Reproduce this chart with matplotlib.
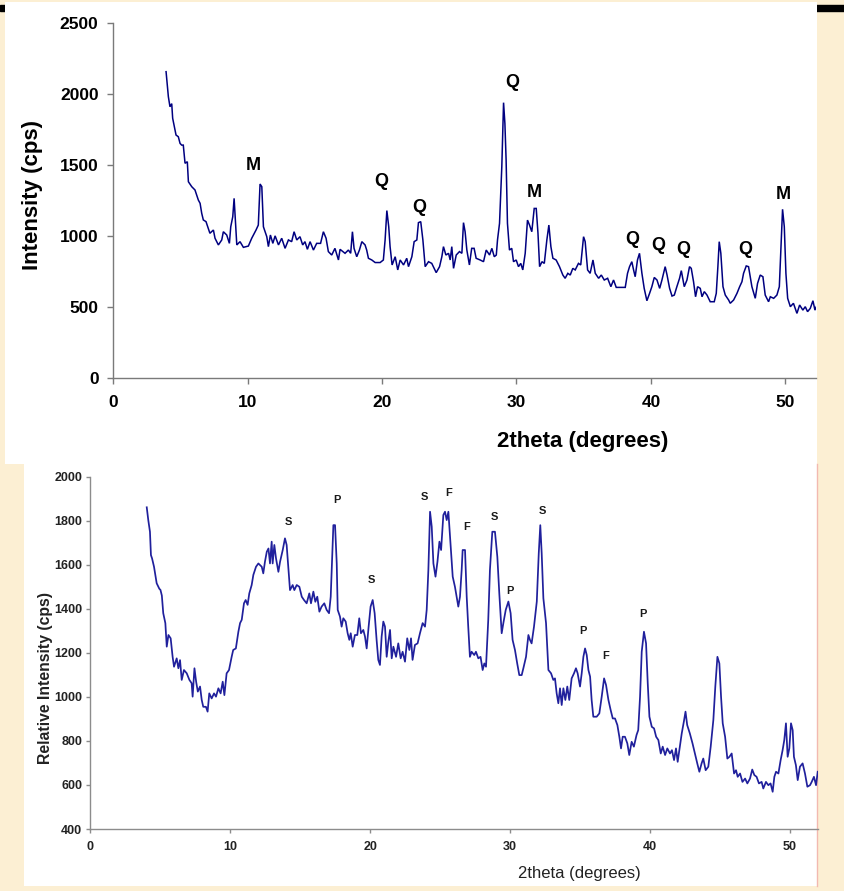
"""
Two stacked XRD patterns on a slide background.
Top    - Intensity (cps) with M / Q peak marks
Bottom - Relative Intensity (cps) with S / P / F peak marks
"""

import matplotlib
matplotlib.use("Agg")
import matplotlib.pyplot as plt
import matplotlib.patches as mpatches
import matplotlib.lines as mlines


W, H = 845, 891
SLIDE_BG   = "#fcefd3"
PANEL_BG   = "#ffffff"
TOP_LINE   = "#000080"
BOT_LINE   = "#20209c"
SPINE_GRAY = "#7a7a7a"

# ── top pattern ─────────────────────────────────────────────────────────────
top_tth = [
    3.94, 4.11, 4.23, 4.36, 4.43, 4.61, 4.68, 4.85, 4.98, 5.10, 5.22, 5.35,
    5.52, 5.60, 5.85, 6.09, 6.34, 6.47, 6.59, 6.71, 6.91, 7.08, 7.20, 7.46,
    7.58, 7.83, 8.08, 8.20, 8.45, 8.65, 8.75, 8.90, 9.00, 9.10, 9.20, 9.44,
    9.69, 10.06, 10.31, 10.63, 10.80, 10.93, 11.06, 11.18, 11.43, 11.55, 11.70, 11.88,
    12.05, 12.30, 12.54, 12.79, 13.04, 13.28, 13.46, 13.66, 13.90, 14.10, 14.27, 14.45,
    14.65, 14.90, 15.14, 15.43, 15.64, 15.84, 16.01, 16.26, 16.50, 16.76, 16.88, 17.25,
    17.50, 17.67, 17.80, 17.92, 18.12, 18.32, 18.50, 18.74, 18.86, 18.99, 19.24, 19.49,
    19.86, 20.10, 20.23, 20.36, 20.50, 20.60, 20.75, 20.98, 21.17, 21.35, 21.60, 21.84,
    21.97, 22.22, 22.39, 22.59, 22.71, 22.88, 23.04, 23.21, 23.46, 23.70, 24.03, 24.28,
    24.45, 24.57, 24.75, 24.95, 25.07, 25.19, 25.32, 25.52, 25.76, 25.94, 26.06, 26.18,
    26.31, 26.50, 26.67, 26.85, 27.00, 27.30, 27.55, 27.75, 28.00, 28.17, 28.35, 28.50,
    28.59, 28.74, 28.91, 29.04, 29.14, 29.23, 29.33, 29.48, 29.65, 29.78, 29.98, 30.15,
    30.32, 30.47, 30.65, 30.82, 30.97, 31.14, 31.32, 31.47, 31.60, 31.72, 31.90, 32.07,
    32.26, 32.41, 32.56, 32.71, 32.95, 33.20, 33.45, 33.62, 33.82, 34.00, 34.19, 34.37,
    34.61, 34.78, 34.99, 35.11, 35.29, 35.48, 35.69, 35.86, 36.11, 36.31, 36.53, 36.78,
    37.02, 37.22, 37.42, 37.84, 38.09, 38.26, 38.41, 38.58, 38.71, 38.83, 39.00, 39.15,
    39.33, 39.50, 39.70, 39.90, 40.07, 40.25, 40.45, 40.65, 40.82, 41.06, 41.20, 41.39,
    41.57, 41.74, 41.93, 42.13, 42.26, 42.48, 42.68, 42.87, 43.00, 43.17, 43.32, 43.47,
    43.67, 43.80, 43.97, 44.17, 44.41, 44.71, 44.86, 44.98, 45.08, 45.20, 45.36, 45.53,
    45.78, 45.90, 46.15, 46.40, 46.60, 46.77, 46.89, 47.09, 47.26, 47.51, 47.76, 47.93,
    48.13, 48.33, 48.50, 48.75, 48.88, 49.13, 49.37, 49.55, 49.67, 49.79, 49.92, 50.04,
    50.17, 50.37, 50.60, 50.86, 51.06, 51.30, 51.48, 51.65, 51.85, 52.05, 52.20, 52.30,
]
top_cps = [
    2155, 1979, 1908, 1930, 1827, 1744, 1709, 1697, 1650, 1638, 1638, 1510,
    1521, 1380, 1345, 1322, 1251, 1228, 1158, 1111, 1099, 1052, 1017, 1040,
    982, 935, 970, 1028, 1005, 946, 1063, 1134, 1263, 1099, 935, 958,
    918, 927, 982, 1040, 1075, 1364, 1345, 1063, 993, 923, 1005, 946,
    999, 935, 982, 911, 970, 958, 1028, 970, 993, 935, 958, 904,
    958, 899, 946, 946, 1028, 982, 888, 864, 911, 829, 904, 876,
    899, 876, 1028, 911, 852, 899, 958, 935, 899, 841, 829, 811,
    811, 829, 970, 1177, 1063, 923, 794, 852, 759, 829, 794, 841,
    782, 852, 958, 970, 1092, 1099, 970, 782, 817, 805, 740, 782,
    852, 923, 864, 876, 829, 923, 770, 864, 888, 876, 1092, 1028,
    899, 794, 911, 911, 841, 829, 817, 899, 864, 911, 852, 864,
    970, 1087, 1486, 1937, 1790, 1533, 1087, 899, 911, 817, 829, 782,
    805, 759, 876, 1110, 1075, 1028, 1192, 1192, 1017, 782, 817, 805,
    970, 1075, 923, 841, 829, 782, 723, 700, 735, 723, 770, 759,
    805, 794, 993, 958, 759, 735, 829, 735, 700, 723, 688, 700,
    641, 688, 636, 636, 636, 735, 782, 817, 759, 711, 829, 876,
    735, 629, 542, 594, 641, 706, 688, 629, 688, 782, 723, 629,
    575, 582, 641, 700, 754, 641, 688, 782, 770, 676, 570, 641,
    629, 570, 606, 582, 535, 535, 594, 782, 958, 876, 641, 582,
    547, 524, 547, 594, 641, 676, 735, 787, 782, 641, 559, 664,
    723, 711, 582, 535, 570, 559, 582, 641, 923, 1186, 1063, 735,
    559, 500, 524, 453, 512, 476, 500, 465, 488, 542, 476, 500,
]
top_peak_labels = ["M", "Q", "Q", "Q", "M", "Q", "Q", "Q", "Q", "M"]
top_peak_tth    = [10.45, 19.97, 22.76, 29.68, 31.36, 38.58, 40.57, 42.37, 47.05, 49.88]
top_peak_cps    = [1495, 1382, 1200, 2081, 1305, 976, 932, 901, 902, 1290]

# ── bottom pattern ──────────────────────────────────────────────────────────
bot_tth = [
    4.02, 4.13, 4.25, 4.32, 4.40, 4.54, 4.73, 4.92, 5.00, 5.10, 5.20, 5.35,
    5.45, 5.57, 5.73, 5.87, 5.97, 6.16, 6.28, 6.40, 6.52, 6.68, 6.88, 7.07,
    7.23, 7.30, 7.43, 7.55, 7.67, 7.83, 7.95, 8.06, 8.25, 8.37, 8.49, 8.66,
    8.83, 8.97, 9.14, 9.30, 9.45, 9.57, 9.73, 9.90, 10.09, 10.20, 10.39, 10.57,
    10.69, 10.81, 10.97, 11.09, 11.23, 11.35, 11.52, 11.64, 11.83, 12.00, 12.24, 12.35,
    12.47, 12.60, 12.72, 12.83, 12.95, 13.02, 13.14, 13.26, 13.43, 13.55, 13.74, 13.90,
    14.02, 14.14, 14.26, 14.45, 14.57, 14.74, 14.93, 15.10, 15.26, 15.45, 15.64, 15.76,
    15.93, 16.07, 16.21, 16.36, 16.52, 16.71, 16.88, 17.05, 17.17, 17.26, 17.36, 17.48,
    17.60, 17.67, 17.83, 17.95, 18.07, 18.24, 18.38, 18.50, 18.60, 18.74, 18.90, 19.07,
    19.21, 19.33, 19.50, 19.62, 19.74, 19.88, 20.02, 20.17, 20.31, 20.45, 20.57, 20.69,
    20.81, 20.93, 21.05, 21.17, 21.29, 21.41, 21.53, 21.65, 21.84, 22.00, 22.17, 22.31,
    22.48, 22.64, 22.79, 22.91, 23.02, 23.19, 23.38, 23.55, 23.74, 23.91, 24.03, 24.15,
    24.27, 24.39, 24.51, 24.66, 24.80, 24.94, 25.06, 25.22, 25.34, 25.46, 25.58, 25.70,
    25.89, 26.05, 26.29, 26.41, 26.53, 26.60, 26.77, 26.89, 27.00, 27.12, 27.24, 27.43,
    27.55, 27.72, 27.88, 28.03, 28.15, 28.27, 28.43, 28.55, 28.72, 28.91, 29.08, 29.22,
    29.39, 29.51, 29.68, 29.87, 30.03, 30.17, 30.34, 30.50, 30.65, 30.82, 30.94, 31.13,
    31.30, 31.41, 31.53, 31.70, 31.90, 32.04, 32.15, 32.25, 32.37, 32.56, 32.73, 32.92,
    33.08, 33.20, 33.32, 33.44, 33.56, 33.68, 33.80, 33.94, 34.08, 34.22, 34.39, 34.56,
    34.70, 34.82, 34.99, 35.11, 35.23, 35.35, 35.47, 35.59, 35.71, 35.82, 35.94, 36.18,
    36.37, 36.54, 36.71, 36.85, 37.02, 37.18, 37.33, 37.49, 37.66, 37.80, 37.92, 38.04,
    38.20, 38.37, 38.51, 38.68, 38.84, 39.03, 39.15, 39.28, 39.40, 39.56, 39.71, 39.83,
    39.95, 40.12, 40.28, 40.43, 40.59, 40.76, 40.90, 41.07, 41.23, 41.42, 41.56, 41.71,
    41.85, 41.97, 42.09, 42.26, 42.41, 42.53, 42.65, 42.84, 43.03, 43.20, 43.37, 43.52,
    43.68, 43.80, 43.97, 44.16, 44.33, 44.52, 44.66, 44.81, 44.95, 45.07, 45.19, 45.36,
    45.52, 45.67, 45.83, 46.00, 46.14, 46.26, 46.43, 46.60, 46.79, 46.95, 47.14, 47.30,
    47.45, 47.61, 47.78, 47.97, 48.09, 48.28, 48.45, 48.61, 48.76, 48.88, 49.00, 49.17,
    49.33, 49.47, 49.59, 49.71, 49.83, 49.95, 50.07, 50.19, 50.28, 50.42, 50.55, 50.71,
    50.90, 51.07, 51.24, 51.43, 51.55, 51.71, 51.86, 51.98,
]
bot_cps = [
    1861, 1803, 1750, 1644, 1629, 1591, 1516, 1491, 1486, 1460, 1380, 1335,
    1228, 1281, 1266, 1182, 1137, 1175, 1130, 1167, 1077, 1122, 1107, 1077,
    1062, 1001, 1130, 1069, 1024, 1047, 986, 955, 955, 933, 1016, 993,
    1016, 1001, 1039, 1016, 1069, 1008, 1107, 1122, 1182, 1213, 1220, 1296,
    1335, 1350, 1425, 1440, 1418, 1470, 1508, 1554, 1591, 1606, 1591, 1561,
    1614, 1659, 1674, 1606, 1705, 1606, 1690, 1629, 1568, 1614, 1667, 1720,
    1690, 1584, 1485, 1508, 1485, 1508, 1500, 1455, 1440, 1425, 1470, 1425,
    1478, 1432, 1455, 1387, 1410, 1425, 1395, 1380, 1455, 1607, 1780, 1780,
    1606, 1395, 1365, 1319, 1357, 1342, 1289, 1259, 1289, 1228, 1281, 1281,
    1357, 1289, 1304, 1274, 1220, 1319, 1410, 1440, 1380, 1259, 1168, 1145,
    1274, 1342, 1319, 1182, 1251, 1304, 1175, 1228, 1182, 1243, 1175, 1205,
    1160, 1266, 1213, 1266, 1168, 1236, 1243, 1289, 1335, 1319, 1395, 1576,
    1841, 1773, 1606, 1546, 1614, 1705, 1667, 1826, 1841, 1803, 1841, 1728,
    1546, 1500, 1410, 1455, 1576, 1667, 1667, 1455, 1319, 1182, 1205, 1190,
    1205, 1175, 1182, 1122, 1152, 1137, 1349, 1576, 1750, 1750, 1636, 1470,
    1289, 1335, 1395, 1433, 1380, 1259, 1213, 1152, 1099, 1099, 1130, 1182,
    1281, 1259, 1243, 1319, 1433, 1652, 1780, 1652, 1448, 1335, 1122, 1107,
    1077, 1084, 1016, 971, 1039, 963, 1039, 986, 1047, 986, 1084, 1107,
    1130, 1107, 1047, 1107, 1182, 1220, 1190, 1122, 1092, 986, 910, 910,
    925, 1001, 1084, 1054, 986, 940, 902, 902, 872, 819, 766, 819,
    819, 789, 736, 796, 774, 827, 849, 1001, 1205, 1296, 1243, 1062,
    910, 864, 857, 819, 804, 743, 774, 736, 766, 743, 758, 713,
    766, 705, 758, 834, 887, 933, 872, 834, 789, 743, 698, 660,
    698, 720, 667, 683, 774, 895, 1047, 1182, 1152, 1001, 880, 819,
    720, 728, 743, 652, 667, 637, 652, 614, 629, 607, 629, 670,
    645, 637, 607, 614, 584, 614, 599, 607, 569, 637, 660, 652,
    713, 758, 804, 880, 728, 766, 880, 849, 728, 690, 622, 683,
    698, 652, 592, 599, 614, 637, 599, 660,
]
bot_peak_labels = ["S", "P", "S", "S", "F", "F", "S", "P", "S", "P", "F", "P"]
bot_peak_tth    = [14.13, 17.63, 20.05, 23.88, 25.57, 26.90, 28.88, 29.96, 32.32, 35.22, 36.81, 39.50]
bot_peak_cps    = [1796, 1892, 1531, 1907, 1925, 1770, 1815, 1482, 1845, 1299, 1186, 1375]


def fig_box(x0, y0, x1, y1):
    """pixel box (top-left origin) -> figure-fraction rect"""
    return (x0 / W, 1 - y1 / H, (x1 - x0) / W, (y1 - y0) / H)


def style_axes(ax, spine_color, tick_len, ypad, xpad):
    for side in ("top", "right"):
        ax.spines[side].set_visible(False)
    for side in ("left", "bottom"):
        ax.spines[side].set_color(spine_color)
        ax.spines[side].set_linewidth(1.0)
    ax.set_facecolor("none")
    ax.tick_params(axis="both", direction="out", length=tick_len,
                   width=1.0, color=spine_color)
    ax.tick_params(axis="y", pad=ypad)
    ax.tick_params(axis="x", pad=xpad)


plt.rcParams["font.family"] = ["Liberation Sans", "DejaVu Sans"]

fig = plt.figure(figsize=(W / 100, H / 100), dpi=100, facecolor=SLIDE_BG)

# slide decoration: black rule behind the panels, white panels
fig.add_artist(mpatches.Rectangle(fig_box(0, 5, W, 11)[:2], 1, 6 / H,
                                  transform=fig.transFigure, color="black",
                                  zorder=-30))
x, y, w, h = fig_box(5, 2, 817, 464)
fig.add_artist(mpatches.Rectangle((x, y), w, h, transform=fig.transFigure,
                                  color=PANEL_BG, lw=0, zorder=-20))
x, y, w, h = fig_box(24, 462, 817, 886)
fig.add_artist(mpatches.Rectangle((x, y), w, h, transform=fig.transFigure,
                                  color=PANEL_BG, lw=0, zorder=-20))
fig.add_artist(mlines.Line2D([817.5 / W, 817.5 / W], [1 - 886 / H, 1 - 464 / H],
                             transform=fig.transFigure, color="#f2b9b0",
                             lw=1.0, zorder=-10))

# ── top chart ───────────────────────────────────────────────────────────────
ax_top = fig.add_axes(fig_box(113.1, 22.7, 816.3, 377.7))
ax_top.plot(top_tth, top_cps, color=TOP_LINE, lw=1.1, solid_joinstyle="miter")
ax_top.set_xlim(0, 52.3)
ax_top.set_ylim(0, 2500)
ax_top.set_xticks(range(0, 51, 10))
ax_top.set_yticks(range(0, 2501, 500))
style_axes(ax_top, SPINE_GRAY, 4.0, 6.5, 8.5)
for lbl in ax_top.get_xticklabels() + ax_top.get_yticklabels():
    lbl.set_fontsize(12.5)
    lbl.set_fontweight("bold")

for t, x0, y0 in zip(top_peak_labels, top_peak_tth, top_peak_cps):
    ax_top.text(x0, y0, t, ha="center", va="center", fontsize=13,
                fontweight="bold", color="black")

ax_top.text(0.668, -0.181, "2theta (degrees)", transform=ax_top.transAxes,
            ha="center", va="center", fontsize=16, fontweight="bold")
ax_top.text(-0.1146, 0.515, "Intensity (cps)", transform=ax_top.transAxes,
            ha="center", va="center", rotation=90, fontsize=16,
            fontweight="bold")

# ── bottom chart ────────────────────────────────────────────────────────────
ax_bot = fig.add_axes(fig_box(90.5, 476.7, 818.0, 829.0))
ax_bot.plot(bot_tth, bot_cps, color=BOT_LINE, lw=1.25)
ax_bot.set_xlim(0, 52)
ax_bot.set_ylim(400, 2000)
ax_bot.set_xticks(range(0, 51, 10))
ax_bot.set_yticks(range(400, 2001, 200))
style_axes(ax_bot, "#8c8c8c", 3.0, 3.0, 6.0)
for lbl in ax_bot.get_xticklabels() + ax_bot.get_yticklabels():
    lbl.set_fontsize(9)
    lbl.set_fontweight("bold")
    lbl.set_color("#222222")

for t, x0, y0 in zip(bot_peak_labels, bot_peak_tth, bot_peak_cps):
    ax_bot.text(x0, y0, t, ha="center", va="center", fontsize=8,
                fontweight="bold", color="#1a1a1a")

ax_bot.text(0.6715, -0.125, "2theta (degrees)", transform=ax_bot.transAxes,
            ha="center", va="center", fontsize=12, color="#222222")
ax_bot.text(-0.0612, 0.4286, "Relative Intensity (cps)",
            transform=ax_bot.transAxes, ha="center", va="center",
            rotation=90, fontsize=11.3, fontweight="bold", color="#222222")

fig.savefig("out.png", dpi=100, facecolor=SLIDE_BG)
plt.close(fig)
